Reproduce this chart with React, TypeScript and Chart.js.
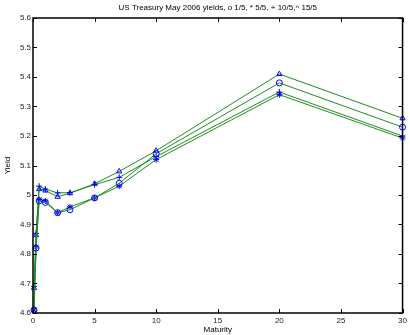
import React, { useEffect, useRef } from "react";
import { Chart, registerables } from "chart.js";

Chart.register(...registerables);

const maturities = [1 / 12, 0.25, 0.5, 1, 2, 3, 5, 7, 10, 20, 30];
const may01 = [4.61, 4.82, 4.98, 4.975, 4.94, 4.95, 4.99, 5.04, 5.14, 5.38, 5.23];
const may05 = [4.61, 4.825, 4.985, 4.98, 4.94, 4.96, 4.99, 5.03, 5.12, 5.34, 5.193];
const may10 = [4.69, 4.87, 5.03, 5.02, 5.007, 5.008, 5.035, 5.06, 5.13, 5.349, 5.2];
const may15 = [4.685, 4.864, 5.02, 5.015, 4.994, 5.006, 5.038, 5.08, 5.15, 5.41, 5.26];
const seriesMarkers = ["circle", "star", "cross", "triangle"];
const xTicks = [0, 5, 10, 15, 20, 25, 30];
const titleText = "US Treasury May 2006 yields, o 1/5, * 5/5, + 10/5,^ 15/5";
const xLabel = "Maturity";
const yLabel = "Yield";

const FONT = "'Liberation Sans', Arial, sans-serif";

const framePlugin = {
  id: "matlabFrame",
  afterDraw(chart: any) {
    const { ctx, chartArea } = chart;
    const { left, right, top, bottom } = chartArea;
    const xs = chart.scales.x;
    const ys = chart.scales.y;
    ctx.save();
    ctx.strokeStyle = "#000";
    ctx.lineWidth = 1;
    const tl = 4;
    ctx.beginPath();
    xs.ticks.forEach((t: any) => {
      const px = Math.round(xs.getPixelForValue(t.value)) + 0.5;
      ctx.moveTo(px, bottom);
      ctx.lineTo(px, bottom - tl);
      ctx.moveTo(px, top);
      ctx.lineTo(px, top + tl);
    });
    ys.ticks.forEach((t: any) => {
      const py = Math.round(ys.getPixelForValue(t.value)) + 0.5;
      ctx.moveTo(left, py);
      ctx.lineTo(left + tl, py);
      ctx.moveTo(right, py);
      ctx.lineTo(right - tl, py);
    });
    ctx.stroke();
    ctx.lineWidth = 1.5;
    ctx.strokeRect(left, top, right - left, bottom - top);

    ctx.fillStyle = "#000";
    ctx.font = `8px ${FONT}`;
    ctx.textAlign = "center";
    ctx.textBaseline = "middle";
    ctx.fillText(titleText, (left + right) / 2, 8);
    ctx.fillText(xLabel, (left + right) / 2, 330);
    ctx.translate(8, (top + bottom) / 2);
    ctx.rotate(-Math.PI / 2);
    ctx.fillText(yLabel, 0, 0);
    ctx.restore();
  },
};

export default function App() {
  const ref = useRef<HTMLCanvasElement | null>(null);
  useEffect(() => {
    if (!ref.current) return;
    const all = [may01, may05, may10, may15];
    const chart = new Chart(ref.current, {
      type: "line",
      data: {
        datasets: all.map((vals, i) => ({
          label: ["1/5", "5/5", "10/5", "15/5"][i],
          data: maturities.map((m, j) => ({ x: m, y: vals[j] })),
          borderColor: "#1e8c1e",
          borderWidth: 1,
          pointStyle: seriesMarkers[i] as any,
          pointRadius: 3,
          pointBorderColor: "#0000ff",
          pointBackgroundColor: "rgba(0,0,0,0)",
          pointBorderWidth: 1,
          tension: 0,
          clip: false as any,
        })),
      },
      options: {
        animation: false,
        responsive: false,
        layout: { padding: { top: 18, right: 5, left: 0, bottom: 0 } },
        plugins: { legend: { display: false }, tooltip: { enabled: false }, title: { display: false } },
        scales: {
          x: {
            type: "linear",
            min: 0,
            max: 30,
            afterBuildTicks: (s: any) => {
              s.ticks = xTicks.map((v) => ({ value: v }));
            },
            grid: { display: false, drawTicks: false },
            border: { display: false },
            ticks: { color: "#222", font: { family: FONT, size: 8 }, padding: 3, maxRotation: 0 },
            afterFit: (s: any) => {
              s.height = 22;
            },
          },
          y: {
            type: "linear",
            min: 4.6,
            max: 5.6,
            grid: { display: false, drawTicks: false },
            border: { display: false },
            ticks: {
              stepSize: 0.1,
              color: "#222",
              font: { family: FONT, size: 8 },
              padding: 2,
              callback: (v: any) => String(Number(Number(v).toFixed(1))),
            },
            afterFit: (s: any) => {
              s.width = 33;
            },
          },
        },
      },
      plugins: [framePlugin],
    });
    return () => chart.destroy();
  }, []);
  return (
    <div style={{ position: "absolute", left: 0, top: 0, width: 410, height: 335, background: "#fff" }}>
      <canvas ref={ref} width={410} height={335} style={{ display: "block" }} />
    </div>
  );
}
